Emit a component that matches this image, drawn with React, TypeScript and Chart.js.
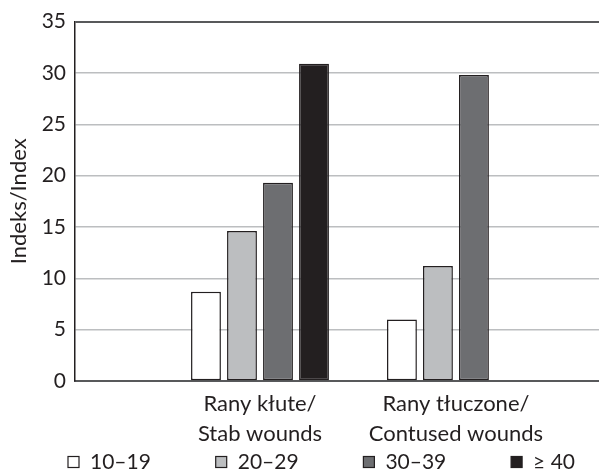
import React, { useEffect, useRef } from 'react';
import { Chart, registerables } from 'chart.js';

Chart.register(...registerables);

// ---- data ----
const categories: string[][] = [
  ['Rany kłute/', 'Stab wounds'],
  ['Rany tłuczone/', 'Contused wounds'],
];
const seriesLabels = ['10–19', '20–29', '30–39', '≥ 40'];
const age10to19 = [8.7, 6.0];
const age20to29 = [14.6, 11.2];
const age30to39 = [19.3, 29.8];
const age40plus: (number | null)[] = [30.9, null];
const yMin = 0;
const yMax = 35;
const yStep = 5;

// ---- styles ----
const FONT = 'Lato';
const TEXT = '#231f20';
const seriesColors = ['#ffffff', '#bcbec0', '#6d6e71', '#231f20'];

const legendPlugin = {
  id: 'spacedLegend',
  afterDraw(chart: any) {
    const ctx = chart.ctx as CanvasRenderingContext2D;
    const start = 68;
    const step = 147.7;
    const cy = chart.height - 9;
    const box = 11;
    ctx.save();
    ctx.font = `21px ${FONT}`;
    ctx.textBaseline = 'middle';
    ctx.textAlign = 'left';
    chart.data.datasets.forEach((ds: any, i: number) => {
      const bx = start + i * step;
      ctx.fillStyle = ds.backgroundColor;
      ctx.fillRect(bx, cy - box / 2, box, box);
      ctx.strokeStyle = '#231f20';
      ctx.lineWidth = 1.2;
      ctx.strokeRect(bx, cy - box / 2, box, box);
      ctx.fillStyle = TEXT;
      ctx.fillText(ds.label, bx + 22, cy);
    });
    ctx.restore();
  },
};

export default function App() {
  const ref = useRef<HTMLCanvasElement | null>(null);

  useEffect(() => {
    if (!ref.current) return;
    const series = [age10to19, age20to29, age30to39, age40plus];
    const chart = new Chart(ref.current, {
      type: 'bar',
      data: {
        datasets: series.map((vals, s) => ({
          label: seriesLabels[s],
          data: vals.map((v, i) => ({ x: i + 1, y: v })),
          backgroundColor: seriesColors[s],
          borderColor: '#231f20',
          borderWidth: 1.5,
          borderSkipped: false,
          categoryPercentage: 0.735,
          barPercentage: 0.83,
        })) as any,
      },
      options: {
        responsive: false,
        animation: false,
        layout: { padding: { top: 18, bottom: 14, left: 0, right: 0 } },
        plugins: {
          legend: { display: false },
          tooltip: { enabled: false },
        },
        scales: {
          x: {
            type: 'linear',
            min: 0.056,
            max: 2.73,
            offset: false,
            afterBuildTicks: (scale: any) => {
              scale.ticks = categories.map((_, i) => ({ value: i + 1 }));
            },
            grid: { display: false, drawTicks: false, offset: false },
            border: { display: true, color: '#58595b', width: 2 },
            ticks: {
              autoSkip: false,
              maxRotation: 0,
              padding: 8,
              color: TEXT,
              font: { family: FONT, size: 22, lineHeight: 30 / 22 },
              callback: (v: any) => {
                const c = categories[Math.round(Number(v)) - 1];
                return c ? c : '';
              },
            },
          },
          y: {
            min: yMin,
            max: yMax,
            afterFit: (scale: any) => {
              scale.width = 75;
            },
            ticks: {
              stepSize: yStep,
              padding: 9,
              color: TEXT,
              font: { family: FONT, size: 21 },
            },
            grid: {
              drawTicks: false,
              color: (c: any) => (c.tick && c.tick.value === yMax ? '#58595b' : '#bcbec0'),
              lineWidth: (c: any) => (c.tick && c.tick.value === yMax ? 2 : 1.5),
            },
            border: { display: true, color: '#231f20', width: 1.5 },
            title: {
              display: true,
              text: 'Indeks/Index',
              color: TEXT,
              font: { family: FONT, size: 22 },
              padding: { top: 6, bottom: 0 },
            },
          },
        },
      },
      plugins: [legendPlugin],
    });
    return () => chart.destroy();
  }, []);

  return (
    <div style={{ position: 'fixed', left: 0, top: 0, width: 599, height: 471, background: '#fff' }}>
      <canvas ref={ref} width={599} height={471} style={{ display: 'block' }} />
    </div>
  );
}
